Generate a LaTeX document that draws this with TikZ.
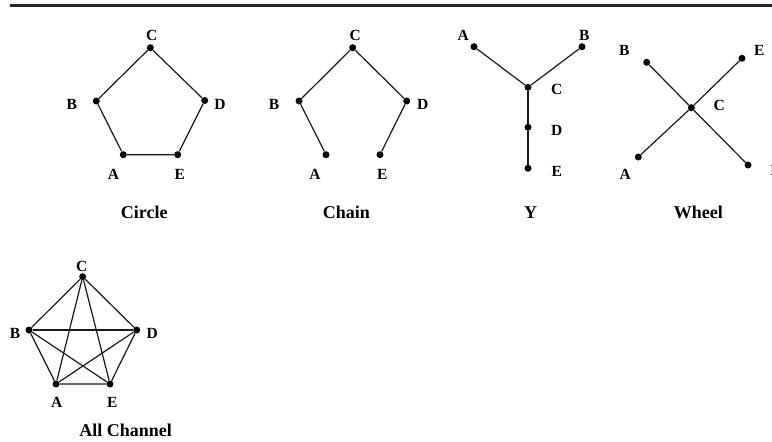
\documentclass[tikz,border=0pt]{standalone}
\usepackage{fontspec}
\setmainfont{Liberation Serif}
\begin{document}
\begin{tikzpicture}[x=1pt,y=-1pt,
  dot/.style={circle,fill=black,inner sep=0pt,minimum size=7pt},
  lbl/.style={font=\fontsize{15.5}{18}\selectfont\bfseries,inner sep=0pt},
  capt/.style={font=\fontsize{18}{21}\selectfont\bfseries,inner sep=0pt},
  lnk/.style={line width=1.2pt,black!90}]
\useasboundingbox (0,0) rectangle (772,442);
\fill[white] (0,0) rectangle (772,442);
% top rule
\coordinate (rl) at (10,5);
\coordinate (rr) at (772,5);
\draw[line width=3pt,black!85] (rl) -- (rr);

% Circle
\node[dot] (cC) at (150.3,47.7) {};
\node[dot] (cB) at (96.3,101) {};
\node[dot] (cD) at (204.7,100.5) {};
\node[dot] (cA) at (123.3,154.7) {};
\node[dot] (cE) at (177.7,154.7) {};
\draw[lnk] (cB) -- (cC) -- (cD) -- (cE) -- (cA) -- (cB);
\node[lbl] (lcC) at (151.7,35) {C};
\node[lbl] (lcB) at (71.7,104.3) {B};
\node[lbl] (lcD) at (220,104.3) {D};
\node[lbl] (lcA) at (113.5,174) {A};
\node[lbl] (lcE) at (179.8,174) {E};
\node[capt] (tc) at (144.2,212.5) {Circle};

% Chain
\node[dot] (hC) at (352.7,47.7) {};
\node[dot] (hB) at (299,101) {};
\node[dot] (hD) at (406.7,101) {};
\node[dot] (hA) at (326,154.7) {};
\node[dot] (hE) at (380,154.7) {};
\draw[lnk] (hA) -- (hB) -- (hC) -- (hD) -- (hE);
\node[lbl] (lhC) at (355.3,35) {C};
\node[lbl] (lhB) at (274,104.3) {B};
\node[lbl] (lhD) at (422.7,104.3) {D};
\node[lbl] (lhA) at (315,174) {A};
\node[lbl] (lhE) at (382.3,174) {E};
\node[capt] (th) at (346.5,212.5) {Chain};

% Y
\node[dot] (yA) at (474,46.7) {};
\node[dot] (yB) at (582,46.7) {};
\node[dot] (yC) at (528,87.3) {};
\node[dot] (yD) at (528,127.3) {};
\node[dot] (yE) at (528,168.3) {};
\draw[lnk] (yA) -- (yC) -- (yB);
\draw[lnk] (yC) -- (yD) -- (yE);
\node[lbl] (lyA) at (463.3,35) {A};
\node[lbl] (lyB) at (584.3,35) {B};
\node[lbl] (lyC) at (556.7,89.8) {C};
\node[lbl] (lyD) at (556.7,130.3) {D};
\node[lbl] (lyE) at (556.7,171.5) {E};
\node[capt] (ty) at (530.7,212.5) {Y};

% Wheel
\node[dot] (wB) at (646.7,62.3) {};
\node[dot] (wE) at (742,58.3) {};
\node[dot] (wC) at (691.3,107.7) {};
\node[dot] (wA) at (638.3,157) {};
\node[dot] (wD) at (748,165) {};
\draw[lnk] (wB) -- (wC) -- (wD);
\draw[lnk] (wE) -- (wC) -- (wA);
\node[lbl] (lwB) at (624.3,50) {B};
\node[lbl] (lwE) at (759.3,50) {E};
\node[lbl] (lwC) at (719.3,105) {C};
\node[lbl] (lwA) at (625.3,174) {A};
\node[lbl] (lwD) at (776,170) {D};
\node[capt] (tw) at (698.3,212.5) {Wheel};

% All Channel
\node[dot] (aC) at (82.7,276.7) {};
\node[dot] (aB) at (29,330) {};
\node[dot] (aD) at (136.7,330) {};
\node[dot] (aA) at (56,384) {};
\node[dot] (aE) at (110,384) {};
\draw[lnk] (aB) -- (aC) -- (aD) -- (aE) -- (aA) -- (aB);
\draw[lnk] (aC) -- (aA);
\draw[lnk] (aC) -- (aE);
\draw[lnk] (aB) -- (aD);
\draw[lnk] (aB) -- (aE);
\draw[lnk] (aD) -- (aA);
\node[lbl] (laC) at (81.7,266) {C};
\node[lbl] (laB) at (15,333.3) {B};
\node[lbl] (laD) at (152.3,333.3) {D};
\node[lbl] (laA) at (56.7,402) {A};
\node[lbl] (laE) at (112.3,402) {E};
\node[capt] (ta) at (125.7,430.3) {All Channel};
\end{tikzpicture}
\end{document}
